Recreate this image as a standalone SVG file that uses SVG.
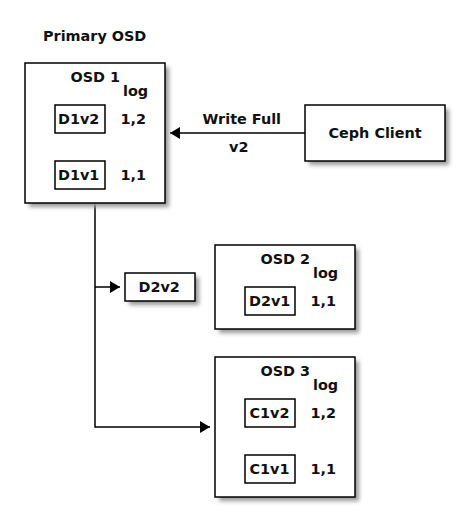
<svg xmlns="http://www.w3.org/2000/svg" width="470" height="532" viewBox="0 0 470 532">
<style>
text{font-family:"DejaVu Sans","Liberation Sans",sans-serif;font-weight:bold;font-size:14.4px;fill:#111}
.box{fill:#fff;stroke:#000;stroke-width:1.5}
.sh{fill:#999;filter:url(#blur)}
.ln{fill:none;stroke:#000;stroke-width:1.5}
</style>
<defs>
<filter id="blur" x="-20%" y="-20%" width="140%" height="140%"><feGaussianBlur stdDeviation="2"/></filter>
<marker id="ah" markerWidth="10" markerHeight="12" refX="10" refY="6" orient="auto" markerUnits="userSpaceOnUse"><path d="M0,0 L10,6 L0,12 Z" fill="#000"/></marker>
</defs>
<rect width="470" height="532" fill="#fff"/>
<text x="43" y="40.5">Primary OSD</text>
<g id="connectors">
<line class="ln" x1="305" y1="133" x2="170" y2="133" marker-end="url(#ah)"/>
<text x="202.5" y="123.5">Write Full</text>
<text x="229" y="152">v2</text>
<polyline class="ln" points="95,203 95,427 210,427" marker-end="url(#ah)"/>
<line class="ln" x1="95" y1="287" x2="120" y2="287" marker-end="url(#ah)"/>
</g>
<g id="osd1">
<rect class="sh" x="29" y="67" width="140" height="140"/>
<rect class="box" x="25" y="63" width="140" height="140"/>
<text x="70.5" y="81.5">OSD 1</text>
<text x="123" y="95.5">log</text>
<rect class="box" x="55" y="105" width="50" height="28"/>
<text x="58" y="123.5">D1v2</text>
<text x="120.5" y="123.5">1,2</text>
<rect class="box" x="55" y="161" width="50" height="28"/>
<text x="58" y="179.5">D1v1</text>
<text x="120.5" y="179.5">1,1</text>
</g>
<g id="client">
<rect class="sh" x="309" y="109" width="140" height="56"/>
<rect class="box" x="305" y="105" width="140" height="56"/>
<text x="328.5" y="138">Ceph Client</text>
</g>
<g id="d2v2">
<rect class="sh" x="129" y="277" width="70" height="28"/>
<rect class="box" x="125" y="273" width="70" height="28"/>
<text x="138.5" y="292">D2v2</text>
</g>
<g id="osd2">
<rect class="sh" x="219" y="249" width="140" height="84"/>
<rect class="box" x="215" y="245" width="140" height="84"/>
<text x="260.5" y="263.5">OSD 2</text>
<text x="313" y="277.5">log</text>
<rect class="box" x="245" y="287" width="50" height="28"/>
<text x="249" y="305.5">D2v1</text>
<text x="310.5" y="305.5">1,1</text>
</g>
<g id="osd3">
<rect class="sh" x="219" y="361" width="140" height="140"/>
<rect class="box" x="215" y="357" width="140" height="140"/>
<text x="260.5" y="375.5">OSD 3</text>
<text x="313" y="389.5">log</text>
<rect class="box" x="245" y="399" width="50" height="28"/>
<text x="249.5" y="417.5">C1v2</text>
<text x="310.5" y="417.5">1,2</text>
<rect class="box" x="245" y="455" width="50" height="28"/>
<text x="249.5" y="473.5">C1v1</text>
<text x="310.5" y="473.5">1,1</text>
</g>
</svg>
